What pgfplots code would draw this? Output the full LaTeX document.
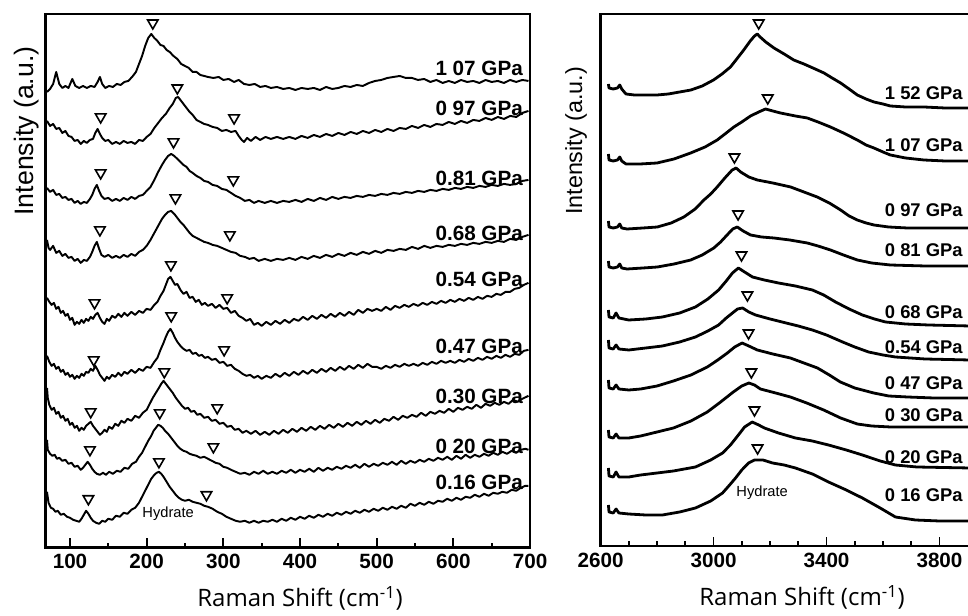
\documentclass[border=0pt]{standalone}
\usepackage{fontspec}
\setmainfont{Liberation Sans}
\newfontfamily\osans{Open Sans}
\usepackage{pgfplots}
\pgfplotsset{compat=1.18}
\pgfplotsset{
  spec/.style={black, line width=1.45pt, line join=round},
  specR/.style={black, line width=2.1pt, line join=round},
  tri/.style={only marks, mark=triangle, mark size=4.5pt,
    mark options={rotate=180, fill=white, draw=black, line width=1.2pt}},
  base/.style={
    scale only axis, anchor=south west,
    axis line style={line width=1.7pt},
    y dir=reverse, ytick=\empty, xtick pos=left, tick align=inside,
    major tick length=7pt, minor tick length=3.5pt,
    tick style={black, line width=1.3pt},
    xticklabel style={font=\fontsize{15.5}{16}\selectfont\bfseries, yshift=-1.5pt},
    /pgf/number format/assume math mode=true,
    /pgf/number format/1000 sep={},
  },
}
\tikzset{
  lbl/.style={anchor=east, font=\fontsize{15.5}{16}\selectfont\bfseries, inner sep=0pt},
  lblR/.style={anchor=east, font=\fontsize{13.8}{14}\selectfont\bfseries, inner sep=0pt},
}
\begin{document}
\begin{tikzpicture}
\path[use as bounding box] (0,0) rectangle (726pt,462pt);
% ---------------- LEFT PANEL ----------------
\begin{axis}[base, at={(34.1pt,51.4pt)}, width=363.4pt, height=400.1pt,
  xmin=68, xmax=700, ymin=14, ymax=547.7,
  xtick={100,200,...,700}, minor xtick={150,250,...,650}]
% 1.07 GPa
\addplot[spec] table {
70 92
74 89
78 84
82 72
86 84
90 88
94 86
98 88
103 79
107 86
112 88
117 86
122 88
127 86
132 87
136 82
139 77
142 84
146 88
151 86
156 87
161 84
166 85
171 82
176 81
181 77
186 72
190 64
194 56
198 46
202 38
206 34
210 38
214 41
218 45
222 46
226 50
230 52
235 56
240 59
245 64
250 66
255 68
260 72
265 72
270 75
275 76
280 77
287 78
294 77
300 80
307 79
314 82
320 80
327 84
334 85
341 84
348 87
355 86
362 88
370 87
378 89
386 88
394 90
402 88
410 89
418 88
426 90
434 87
442 89
450 88
458 86
466 87
474 85
482 86
490 83
498 81
506 80
514 78
522 77
530 76
538 78
546 78
554 80
562 79
570 82
578 80
586 83
594 81
602 83
610 80
618 82
626 81
634 83
642 80
650 82
658 81
666 83
674 80
682 82
690 80
698 81
};
% 0.97 GPa
\addplot[spec] table {
70 121
74 126
78 124
82 129
86 128
90 133
94 131
98 136
102 137
106 141
110 140
114 144
118 141
122 143
126 140
130 139
133 133
136 129
139 134
142 138
146 141
150 140
155 144
160 142
165 144
170 141
175 143
180 142
185 144
190 140
195 141
200 137
205 134
210 128
215 123
220 118
225 114
230 108
234 104
238 98
241 97
244 100
248 104
252 108
256 112
260 115
265 120
270 122
275 124
280 125
286 127
292 128
298 131
304 130
310 132
316 131
320 136
324 140
327 142
331 138
336 141
342 137
348 140
355 137
362 139
370 137
378 139
386 137
394 139
402 136
410 138
418 135
426 137
434 134
442 136
450 133
458 135
466 132
474 134
482 131
490 133
498 130
506 132
514 129
522 131
530 128
538 129
546 126
554 128
562 125
570 127
578 124
586 125
594 122
602 124
610 121
618 123
626 120
634 121
642 118
650 120
658 117
666 119
674 116
682 117
690 113
698 111
};
% 0.81 GPa
\addplot[spec] table {
70 188
74 192
78 190
82 195
86 194
90 198
94 197
98 200
102 199
106 203
110 201
114 204
118 202
122 203
126 199
129 195
132 189
135 185
138 191
141 196
145 199
150 198
155 201
160 199
165 201
170 198
175 200
180 197
185 199
190 196
195 195
200 191
205 187
210 180
215 172
220 165
224 160
228 156
232 154
236 156
240 159
244 162
248 165
252 167
256 171
260 173
265 176
270 178
275 181
280 182
286 185
292 186
298 189
304 190
310 193
316 196
322 198
328 201
334 200
340 203
346 201
354 203
362 201
370 203
378 201
386 202
394 200
402 202
410 199
418 201
426 198
434 200
442 197
450 199
458 197
466 198
474 196
482 197
490 195
498 196
506 194
514 195
522 193
530 194
538 192
546 193
554 191
562 192
570 190
578 191
586 189
594 190
602 188
610 189
618 187
626 188
634 186
642 187
650 185
658 186
666 184
674 185
682 184
690 181
698 180
};
% 0.68 GPa
\addplot[spec] table {
70 240
72 248
74 250
78 246
82 253
86 251
90 256
94 254
98 258
102 257
106 261
110 259
114 263
118 260
122 261
126 257
129 252
132 246
135 242
138 249
141 255
145 257
150 255
155 258
160 256
165 258
170 255
175 257
180 254
185 256
190 252
195 250
200 246
205 240
210 233
215 226
220 219
224 215
228 212
232 211
236 214
240 218
244 222
248 225
252 229
256 233
260 236
265 238
270 240
275 242
280 243
286 245
292 246
298 248
304 250
310 252
316 253
322 256
328 257
334 259
340 258
346 261
354 259
362 261
370 259
378 260
386 258
394 260
402 257
410 259
418 256
426 258
434 255
442 257
450 254
458 256
466 253
474 255
482 252
490 254
498 251
506 253
514 250
522 251
530 249
538 250
546 247
554 249
562 246
570 248
578 246
586 247
594 245
602 246
610 244
618 245
626 243
634 244
642 242
650 243
658 241
666 242
674 239
682 240
690 237
698 235
};
% 0.54 GPa
\addplot[spec] table {
70 298
73 302
76 305
79 303
82 309
85 307
88 313
91 311
94 316
97 314
100 320
103 318
106 325
109 322
112 324
115 320
118 323
121 319
124 321
127 317
130 319
133 315
136 313
139 318
142 322
145 324
148 319
151 321
155 316
159 318
163 314
167 317
171 313
175 316
180 312
185 315
190 311
195 313
200 309
205 310
210 305
214 302
218 296
222 291
225 285
228 279
231 277
234 281
237 285
240 284
244 290
248 294
252 292
256 298
260 297
264 302
268 300
272 305
276 303
280 306
285 304
290 308
295 305
300 309
305 308
310 313
315 311
320 316
325 318
330 321
335 319
340 325
345 323
350 326
356 322
362 325
368 321
374 324
380 320
386 323
392 319
398 321
404 317
410 320
416 316
422 319
428 315
434 318
440 314
446 317
452 313
458 316
464 312
470 315
476 310
482 313
488 309
494 311
500 309
506 311
512 307
518 310
524 306
530 308
536 305
542 307
548 304
554 306
560 303
566 305
572 302
578 304
584 301
590 303
596 300
602 302
608 299
614 301
620 298
626 300
632 297
638 299
644 296
650 297
656 294
662 295
668 292
674 292
680 289
686 288
692 285
698 283
};
% 0.47 GPa
\addplot[spec] table {
70 356
73 362
76 366
79 364
82 369
85 367
88 372
91 370
94 375
97 373
100 377
103 375
106 379
109 376
112 378
115 374
118 376
121 372
124 373
127 369
130 371
133 366
136 370
139 375
142 378
145 381
148 377
151 379
155 375
159 377
163 373
167 376
171 372
175 374
180 370
185 373
190 369
195 371
200 367
205 368
210 362
214 358
218 350
222 343
225 337
228 332
231 329
234 333
237 338
240 342
244 346
248 349
252 351
256 350
260 354
264 353
268 356
272 355
276 358
280 357
285 360
290 359
295 363
300 362
305 366
310 365
315 369
320 371
325 374
330 376
335 375
340 378
345 376
350 379
356 376
362 378
368 374
374 377
380 373
386 376
392 372
398 375
404 371
410 374
416 370
422 373
428 369
434 372
440 368
446 371
452 367
458 370
464 366
470 369
476 365
482 368
488 364
494 367
500 367
506 369
512 366
518 368
524 365
530 367
536 364
542 366
548 364
554 366
560 363
566 365
572 362
578 364
584 361
590 363
596 361
602 363
608 360
614 362
620 359
626 361
632 358
638 360
644 357
650 359
656 356
662 358
668 355
674 357
680 354
686 355
692 351
698 350
};
% 0.30 GPa
\addplot[spec] table {
70 388
71 398
73 405
76 410
79 408
82 414
85 412
88 418
91 416
94 421
97 419
100 425
103 423
106 428
109 426
112 431
115 428
118 430
121 426
124 424
127 422
130 426
133 429
136 432
139 435
142 433
145 430
148 432
151 427
155 429
159 424
163 426
167 421
171 423
175 419
180 421
185 416
190 418
195 413
200 410
204 404
208 398
212 393
216 388
219 384
222 381
225 384
228 387
231 390
234 393
238 398
242 402
246 406
250 409
254 408
258 412
262 411
266 415
270 414
275 418
280 417
285 421
290 420
295 424
300 423
305 427
310 426
315 430
320 429
325 433
330 431
336 434
342 431
348 435
354 432
360 435
366 431
372 434
378 430
384 433
390 429
396 432
402 428
408 431
414 427
420 430
426 426
432 429
438 425
444 428
450 424
456 427
462 423
468 426
474 422
480 425
486 421
492 424
498 420
504 423
510 419
516 421
522 417
528 420
534 416
540 418
546 415
552 417
558 413
564 416
570 412
576 414
582 411
588 413
594 409
600 412
606 408
612 410
618 407
624 409
630 405
636 408
642 404
648 406
654 403
660 405
666 402
672 404
678 400
684 402
690 399
698 396
};
% 0.20 GPa
\addplot[spec] table {
70 440
71 450
74 454
77 456
80 455
83 459
86 458
90 461
94 460
98 464
102 463
106 467
110 466
114 470
117 468
120 465
123 462
126 465
129 469
132 472
135 474
139 475
143 473
147 475
151 472
156 474
161 471
166 472
171 468
176 469
181 464
186 462
190 457
194 453
198 447
202 441
206 436
209 431
212 428
215 425
218 426
221 428
224 431
228 434
232 438
236 442
240 446
244 449
248 451
252 452
256 454
260 455
265 456
270 458
275 457
280 459
285 461
290 463
295 464
300 467
305 468
310 470
316 472
322 474
328 473
334 475
340 472
346 474
352 471
358 474
364 472
370 474
376 471
382 473
388 470
394 473
400 470
406 472
412 469
418 472
424 468
430 471
436 468
442 470
448 467
454 469
460 466
466 468
472 465
478 468
484 464
490 467
496 464
502 466
508 463
514 465
520 462
526 465
532 461
538 464
544 461
550 463
556 460
562 462
568 459
574 461
580 458
586 460
592 457
598 460
604 456
610 459
616 455
622 458
628 455
634 457
640 454
646 456
652 453
658 455
664 452
670 454
676 451
682 453
688 450
694 449
698 450
};
% 0.16 GPa
\addplot[spec] table {
70 492
72 503
75 508
78 509
81 512
84 511
88 515
92 514
96 517
100 518
104 520
108 521
112 522
115 519
118 515
121 511
124 514
127 518
130 521
134 523
138 524
142 521
146 522
150 519
155 520
160 516
165 517
170 513
175 514
180 510
185 508
190 503
194 497
198 491
202 485
206 479
210 475
213 473
216 472
219 474
222 477
226 482
230 487
234 491
238 495
242 498
246 500
250 501
255 500
260 502
265 503
270 504
275 506
280 507
286 509
292 512
298 514
304 517
310 519
316 521
322 522
328 521
334 523
340 521
346 523
352 521
358 522
364 520
370 522
376 519
382 521
388 518
394 520
400 517
406 519
412 516
418 518
424 515
430 517
436 514
442 516
448 513
454 515
460 512
466 514
472 511
478 513
484 510
490 512
496 509
502 511
508 508
514 510
520 507
526 509
532 506
538 508
544 504
550 506
556 503
562 505
568 502
574 504
580 501
586 502
592 499
598 501
604 498
610 500
616 497
622 498
628 495
634 497
640 494
646 496
652 493
658 494
664 492
670 493
676 490
682 491
688 488
694 486
698 486
};
% peak markers
\addplot[tri] coordinates {
(208,23)
(140,117) (240,88) (314,118)
(140,173) (235,142) (313,180)
(139,230) (237.5,198) (308.5,235)
(132,303) (231.6,265) (305,298)
(131,360) (232,316) (301,350)
(127,412) (223,372) (292,408)
(126,450) (217,413) (287,447)
(124,499) (216,462) (278,495)
};
\node[lbl] at (axis cs:691,68) {1 07 GPa};
\node[lbl] at (axis cs:691,108) {0 97 GPa};
\node[lbl] at (axis cs:691,178) {0.81 GPa};
\node[lbl] at (axis cs:691,233) {0.68 GPa};
\node[lbl] at (axis cs:691,280) {0.54 GPa};
\node[lbl] at (axis cs:691,347) {0.47 GPa};
\node[lbl] at (axis cs:691,397) {0.30 GPa};
\node[lbl] at (axis cs:691,447) {0 20 GPa};
\node[lbl] at (axis cs:691,483) {0.16 GPa};
\node[font=\fontsize{11}{11}\selectfont] at (axis cs:228,514) {Hydrate};
\end{axis}
% ---------------- RIGHT PANEL ----------------
\begin{axis}[base, at={(450.4pt,52.5pt)}, width=277.1pt, height=399pt,
  xmin=2600, xmax=3908, ymin=14, ymax=546,
  xtick={2600,3000,3400,3800},
  minor xtick={2700,2800,2900,3100,3200,3300,3500,3600,3700}]
\addplot[specR] table {
2628 84
2630 88
2645 89
2660 88
2668 85
2675 89
2690 94
2720 95
2760 95
2800 95
2840 94
2880 92
2920 90
2960 86
3000 80
3030 74
3060 67
3085 58
3107 50
3130 41
3145 36
3155 34
3165 37
3185 42
3214 48
3250 54
3284 60
3320 64
3360 69
3391 73
3420 78
3450 83
3480 89
3509 95
3540 99
3568 102
3600 104
3626 106
3680 107
3745 107
3820 108
3908 108
};
\addplot[specR] table {
2628 154
2630 160
2645 161
2660 160
2668 157
2675 161
2690 164
2740 164
2800 163
2860 159
2919 153
2970 147
3013 140
3045 133
3072 127
3100 122
3131 116
3160 112
3184 109
3210 111
3237 113
3290 116
3332 118
3370 122
3414 127
3460 133
3509 140
3540 145
3568 148
3600 152
3626 155
3680 158
3745 160
3820 161
3908 161
};
\addplot[specR] table {
2628 221
2630 227
2645 228
2660 227
2668 224
2675 228
2694 229
2750 228
2801 227
2850 223
2895 217
2935 209
2966 200
2990 194
3013 187
3040 178
3066 170
3080 168
3096 172
3125 177
3155 180
3210 183
3273 187
3320 192
3367 197
3410 203
3450 210
3480 216
3509 220
3540 223
3568 225
3620 227
3686 228
3780 228
3908 228
};
\addplot[specR] table {
2628 261
2630 267
2645 268
2660 267
2668 264
2675 268
2694 269
2750 268
2801 267
2860 264
2919 260
2960 255
3001 248
3025 242
3048 235
3068 229
3084 227
3105 231
3131 235
3170 237
3214 238
3270 240
3332 243
3370 246
3414 250
3460 255
3509 260
3560 263
3626 265
3750 266
3908 266
};
\addplot[specR] table {
2628 310
2630 317
2645 318
2655 313
2665 318
2700 320
2760 319
2819 317
2880 313
2936 307
2980 299
3018 290
3045 281
3067 273
3088 268
3110 272
3138 277
3180 280
3230 283
3290 286
3350 290
3390 295
3432 302
3480 309
3527 315
3570 319
3609 322
3680 324
3761 325
3908 326
};
\addplot[specR] table {
2628 340
2630 348
2645 349
2655 345
2665 349
2700 350
2760 348
2819 346
2880 342
2936 337
2980 331
3018 325
3045 318
3067 313
3085 309
3103 308
3125 312
3149 315
3200 319
3243 322
3300 326
3350 330
3400 335
3457 342
3500 347
3549 352
3600 355
3644 357
3750 359
3908 360
};
\addplot[specR] table {
2628 380
2630 388
2645 389
2655 385
2665 389
2700 390
2742 389
2800 386
2858 381
2920 375
2978 367
3015 360
3049 353
3075 347
3101 343
3125 346
3155 350
3210 354
3272 358
3320 363
3368 368
3410 375
3449 382
3500 388
3567 393
3620 396
3687 397
3780 398
3908 398
};
\addplot[specR] table {
2628 430
2630 437
2645 438
2655 434
2665 438
2700 438
2742 436
2800 432
2858 428
2920 421
2978 412
3025 402
3070 392
3100 386
3125 383
3145 385
3166 389
3220 393
3272 397
3330 403
3390 410
3450 418
3509 424
3560 426
3627 427
3750 427
3908 427
};
\addplot[specR] table {
2628 468
2630 476
2645 477
2655 472
2665 477
2700 477
2742 475
2800 473
2858 471
2936 467
2990 460
3032 453
3060 445
3088 435
3110 427
3137 422
3160 425
3180 428
3230 433
3290 438
3350 441
3407 445
3470 450
3527 455
3590 461
3644 465
3720 467
3908 468
};
\addplot[specR] table {
2628 505
2630 512
2645 513
2655 509
2665 513
2700 514
2760 515
2819 515
2880 512
2936 508
2990 501
3032 493
3060 484
3078 478
3100 470
3124 463
3145 460
3175 460
3209 463
3250 465
3290 468
3350 474
3407 482
3470 490
3527 498
3590 508
3644 517
3715 520
3800 521
3908 521
};
\addplot[tri] coordinates {
(3160,23) (3192,98) (3074,157) (3087,214) (3099,255)
(3120,295) (3124,333) (3134,372) (3145,410) (3156,448)
};
\node[lblR] at (axis cs:3883,93) {1 52 GPa};
\node[lblR] at (axis cs:3883,145) {1 07 GPa};
\node[lblR] at (axis cs:3883,210) {0 97 GPa};
\node[lblR] at (axis cs:3883,250) {0 81 GPa};
\node[lblR] at (axis cs:3883,312) {0 68 GPa};
\node[lblR] at (axis cs:3883,347) {0.54 GPa};
\node[lblR] at (axis cs:3883,383) {0 47 GPa};
\node[lblR] at (axis cs:3883,415) {0 30 GPa};
\node[lblR] at (axis cs:3883,457) {0 20 GPa};
\node[lblR] at (axis cs:3883,495) {0 16 GPa};
\node[font=\fontsize{11}{11}\selectfont] at (axis cs:3172,493) {Hydrate};
\end{axis}
% axis titles
\node[rotate=90, font=\fontsize{20}{20}\selectfont] at (20.25pt,363.75pt) {Intensity (a.u.)};
\node[rotate=90, font=\fontsize{17.5}{17.5}\selectfont] at (432pt,356.25pt) {Intensity (a.u.)};
\node[font=\osans\fontsize{18}{18}\selectfont] at (225pt,13pt) {Raman Shift (cm\textsuperscript{-1})};
\node[font=\osans\fontsize{18}{18}\selectfont] at (601.5pt,14pt) {Raman Shift (cm\textsuperscript{-1})};
\end{tikzpicture}
\end{document}
